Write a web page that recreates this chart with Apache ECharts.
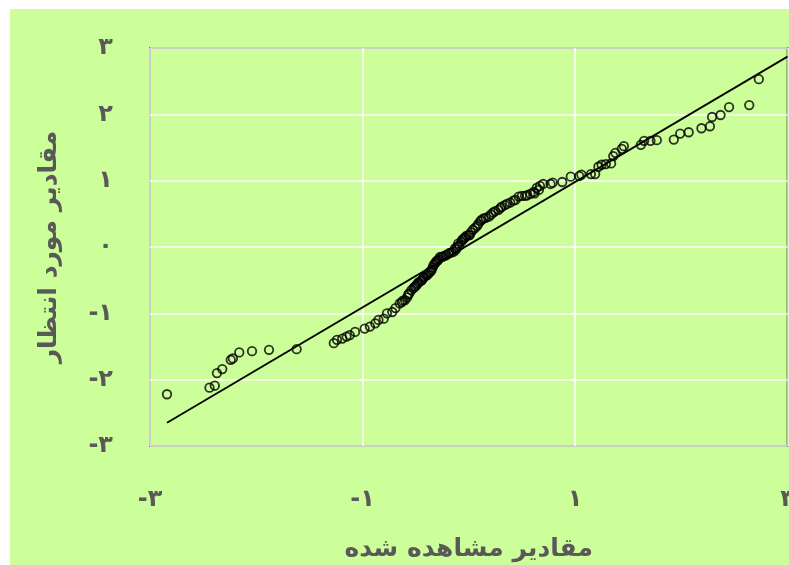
<!DOCTYPE html>
<html>
<head>
<meta charset="utf-8">
<script src="https://cdn.jsdelivr.net/npm/echarts@6/dist/echarts.min.js"></script>
<style>
html,body{margin:0;padding:0;background:#ffffff;width:789px;height:565px;overflow:hidden;}
#c{position:absolute;left:10px;top:9px;width:779px;height:556px;}
</style>
</head>
<body>
<div id="c"></div>
<script>
// Observed values (x axis) and expected normal quantiles (y axis)
var observed = [-2.84,-2.44,-2.39,-2.37,-2.32,-2.24,-2.22,-2.16,-2.04,-1.88,-1.62,
  -1.27,-1.24,-1.19,-1.15,-1.12,-1.07,-0.98,-0.93,-0.88,-0.85,-0.80,-0.77,-0.72,-0.69,
  -0.65,-0.62,-0.60,-0.57,-0.54,-0.51,-0.49,-0.47,-0.44,-0.42,-0.39,-0.37,-0.35,-0.33,
  -0.31,-0.29,-0.27,-0.24,-0.21,-0.18,-0.14,-0.13,-0.11,-0.10,-0.06,-0.04,-0.02,0.01,
  0.04,0.08,0.11,0.14,0.19,0.23,0.28,0.31,0.34,0.39,0.44,0.47,0.50,0.55,0.58,0.61,0.64,
  0.67,0.70,0.77,0.79,0.88,0.96,1.04,1.06,1.15,1.19,1.22,1.25,1.29,1.34,1.36,1.38,1.44,
  1.46,1.62,1.65,1.71,1.77,1.93,1.99,2.07,2.19,2.27,2.29,2.37,2.45,2.64,2.73];
var expected = [-2.22,-2.12,-2.09,-1.90,-1.84,-1.70,-1.68,-1.59,-1.57,-1.55,-1.54,
  -1.45,-1.40,-1.38,-1.35,-1.33,-1.28,-1.23,-1.20,-1.15,-1.10,-1.08,-1.00,-0.98,-0.92,
  -0.85,-0.81,-0.80,-0.72,-0.65,-0.60,-0.57,-0.53,-0.50,-0.45,-0.42,-0.38,-0.35,-0.27,
  -0.23,-0.20,-0.15,-0.14,-0.12,-0.09,-0.07,-0.02,0.00,0.05,0.11,0.14,0.17,0.18,
  0.26,0.32,0.39,0.43,0.46,0.52,0.56,0.61,0.63,0.67,0.71,0.76,0.77,0.78,0.80,0.83,0.89,
  0.92,0.95,0.95,0.97,0.98,1.06,1.07,1.09,1.10,1.10,1.21,1.24,1.25,1.26,1.37,1.42,1.48,
  1.52,1.54,1.60,1.60,1.61,1.62,1.71,1.73,1.79,1.82,1.96,1.99,2.11,2.14,2.53];
// Further overlapping points in the dense central band
var observedDense = [-0.63,-0.58,-0.56,-0.52,-0.50,-0.48,-0.45,-0.43,-0.40,-0.38,-0.36,
  -0.34,-0.32,-0.30,-0.28,-0.25,-0.22,-0.19,-0.16,-0.12,-0.09,-0.07,-0.05,-0.03,0.00,
  0.02,0.06,0.09,0.12,0.16,0.21,0.25,0.30,0.36,0.42,0.53,0.62,0.66];
var expectedDense = [-0.83,-0.76,-0.70,-0.62,-0.59,-0.55,-0.51,-0.47,-0.43,-0.40,-0.37,
  -0.31,-0.25,-0.21,-0.18,-0.15,-0.13,-0.10,-0.08,-0.04,0.02,0.08,0.12,0.15,0.18,
  0.22,0.29,0.35,0.41,0.44,0.49,0.54,0.59,0.65,0.70,0.77,0.81,0.86];
// Reference line end points
var lineX = [-2.84, 3.0];
var lineY = [-2.65, 2.87];
// Tick labels
var xTicks = [-3, -1, 1, 3];
var xTickLabels = ['-۳', '-۱', '۱', '۳'];
var yTicks = [-3, -2, -1, 0, 1, 2, 3];
var yTickLabels = ['-۳', '-۲', '-۱', '۰', '۱', '۲', '۳'];
var xTitle = 'مقادیر مشاهده شده';
var yTitle = 'مقادیر مورد انتظار';

var pts = [];
for (var i = 0; i < observed.length; i++) pts.push([observed[i], expected[i]]);
for (var j = 0; j < observedDense.length; j++) pts.push([observedDense[j], expectedDense[j]]);
var linePts = lineX.map(function (v, i) { return [v, lineY[i]]; });

function lab(ticks, labels) {
  return function (v) {
    for (var i = 0; i < ticks.length; i++) if (Math.abs(ticks[i] - v) < 1e-6) return labels[i];
    return '';
  };
}
var font = 'DejaVu Sans';
var chart = echarts.init(document.getElementById('c'), null, {renderer: 'canvas'});
chart.setOption({
  backgroundColor: '#ccff99',
  animation: false,
  grid: {left: 140, top: 39, right: 1.5, bottom: 119, show: true, borderColor: '#000', borderWidth: 1.5,
    backgroundColor: 'transparent', containLabel: false, outerBoundsMode: 'none'},
  xAxis: {
    type: 'value', min: -3, max: 3, interval: 2,
    axisLine: {show: false}, axisTick: {show: false},
    splitLine: {show: true, lineStyle: {color: '#ffffff', width: 1.5}},
    axisLabel: {formatter: lab(xTicks, xTickLabels), fontFamily: font, fontWeight: 'bold', fontSize: 24, color: '#595959', margin: 42},
    name: xTitle, nameLocation: 'middle', nameGap: 91,
    nameTextStyle: {fontFamily: font, fontWeight: 'bold', fontSize: 25, color: '#595959'}
  },
  yAxis: {
    type: 'value', min: -3, max: 3, interval: 1,
    axisLine: {show: false}, axisTick: {show: false},
    splitLine: {show: true, lineStyle: {color: '#ffffff', width: 1.5}},
    axisLabel: {formatter: lab(yTicks, yTickLabels), fontFamily: font, fontWeight: 'bold', fontSize: 24, color: '#595959', margin: 37},
    name: yTitle, nameLocation: 'middle', nameGap: 88, nameRotate: 90,
    nameTextStyle: {fontFamily: font, fontWeight: 'bold', fontSize: 25, color: '#595959'}
  },
  series: [
    {
      type: 'line', data: linePts, symbol: 'none', silent: true,
      lineStyle: {color: '#000', width: 1.8}, z: 3
    },
    {
      type: 'scatter', data: pts, symbol: 'circle', symbolSize: 8.5,
      itemStyle: {color: 'rgba(0,0,0,0)', borderColor: '#000', borderWidth: 1.8}, z: 4
    }
  ]
});
</script>
</body>
</html>
